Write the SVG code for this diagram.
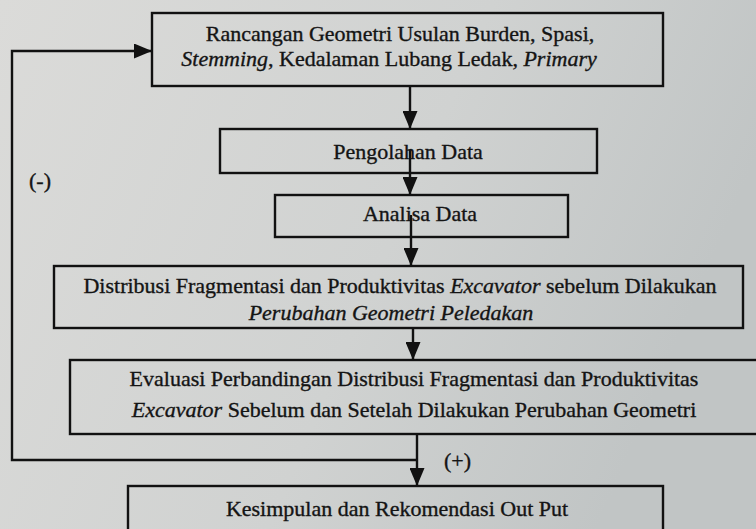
<svg xmlns="http://www.w3.org/2000/svg" width="756" height="529" viewBox="0 0 756 529">
<defs>
<linearGradient id="bg" x1="0" y1="0" x2="1" y2="0.3">
<stop offset="0" stop-color="#dbdbd9"/>
<stop offset="0.6" stop-color="#d0d2d1"/>
<stop offset="1" stop-color="#c1c5c5"/>
</linearGradient>
<marker id="ah" viewBox="0 0 18 15" refX="18" refY="7.5" markerWidth="18" markerHeight="15" markerUnits="userSpaceOnUse" orient="auto">
<path d="M0,0 L18,7.5 L0,15 Z" fill="#111"/>
</marker>
<style>
.box{fill:none;stroke:#111;stroke-width:2.4}
.t{font-family:"Liberation Serif","Times New Roman",serif;font-size:22px;fill:#141414;stroke:#141414;stroke-width:0.35}
.c{fill:none;stroke:#111;stroke-width:2.4}
</style>
</defs>
<rect width="756" height="529" fill="url(#bg)"/>
<g id="connectors">
<line class="c" x1="410" y1="87" x2="410" y2="129" marker-end="url(#ah)"/>
<line class="c" x1="410" y1="150" x2="410" y2="195" marker-end="url(#ah)"/>
<line class="c" x1="411" y1="215" x2="411" y2="266" marker-end="url(#ah)"/>
<line class="c" x1="413" y1="328" x2="413" y2="360" marker-end="url(#ah)"/>
<line class="c" x1="417" y1="434" x2="417" y2="486" marker-end="url(#ah)"/>
<polyline class="c" points="417,460 12,460 12,51 152,51" marker-end="url(#ah)"/>
<text class="t" x="29" y="188" font-size="24">(-)</text>
<text class="t" x="444" y="468" font-size="24">(+)</text>
</g>
<g id="n1">
<rect class="box" x="152" y="13" width="511" height="73"/>
<text class="t" x="400" y="41" text-anchor="middle" font-size="21.5">Rancangan Geometri Usulan Burden, Spasi,</text>
<text class="t" x="389" y="66" text-anchor="middle" font-size="21.5"><tspan font-style="italic">Stemming</tspan>, Kedalaman Lubang Ledak, <tspan font-style="italic">Primary</tspan></text>
</g>
<g id="n2">
<rect class="box" x="220" y="129" width="377" height="44"/>
<text class="t" x="408" y="159" text-anchor="middle">Pengolahan Data</text>
</g>
<g id="n3">
<rect class="box" x="275" y="195" width="293" height="42"/>
<text class="t" x="420" y="221" text-anchor="middle">Analisa Data</text>
</g>
<g id="n4">
<rect class="box" x="54" y="266" width="689" height="62"/>
<text class="t" x="400" y="293" text-anchor="middle">Distribusi Fragmentasi dan Produktivitas <tspan font-style="italic">Excavator</tspan> sebelum Dilakukan</text>
<text class="t" x="391" y="320" text-anchor="middle" font-style="italic">Perubahan Geometri Peledakan</text>
</g>
<g id="n5">
<rect class="box" x="70" y="360" width="700" height="74"/>
<text class="t" x="414" y="386" text-anchor="middle">Evaluasi Perbandingan Distribusi Fragmentasi dan Produktivitas</text>
<text class="t" x="414" y="417" text-anchor="middle"><tspan font-style="italic">Excavator</tspan> Sebelum dan Setelah Dilakukan Perubahan Geometri</text>
</g>
<g id="n6">
<rect class="box" x="128" y="486" width="535" height="60"/>
<text class="t" x="397" y="516" text-anchor="middle">Kesimpulan dan Rekomendasi Out Put</text>
</g>
</svg>
